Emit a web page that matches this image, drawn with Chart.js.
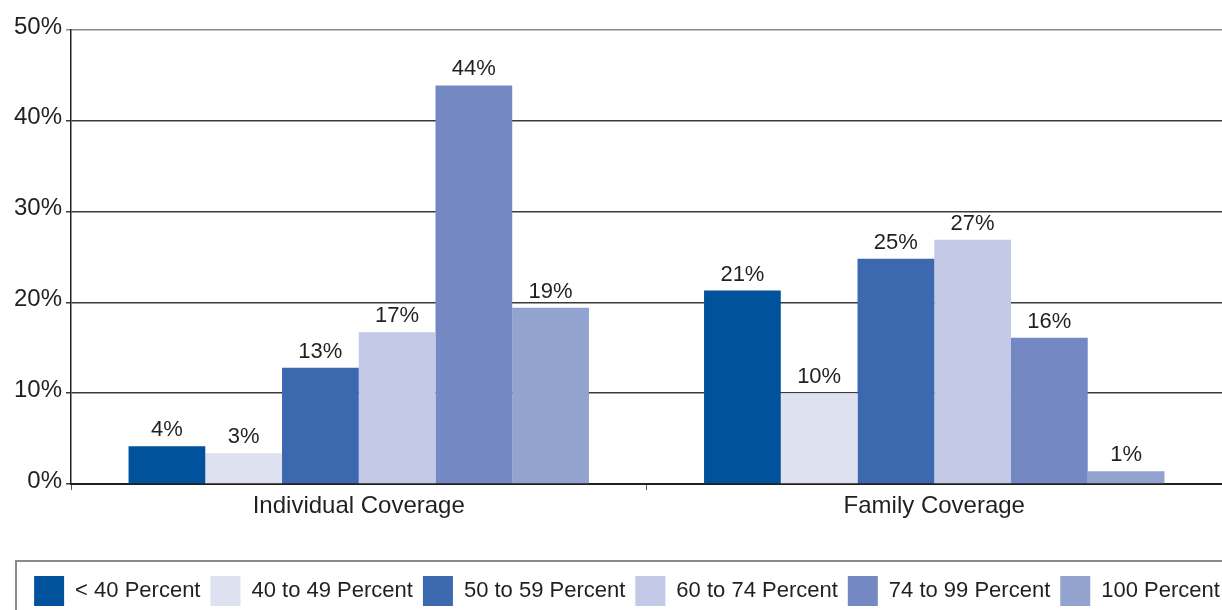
<!DOCTYPE html>
<html lang="en">
<head>
    <meta charset="UTF-8">
    <title>Coverage by percent of premium</title>
    <script src="https://cdn.jsdelivr.net/npm/chart.js"></script>
    <style>
        html, body {
            margin: 0;
            padding: 0;
            background: #fff;
        }
        #chart-container {
            width: 1222px;
            height: 610px;
        }
    </style>
</head>
<body>
    <div id="chart-container">
        <canvas id="coverageChart"></canvas>
    </div>

    <script>
        // data
        const categories = ['Individual Coverage', 'Family Coverage'];
        const seriesNames = ['< 40 Percent', '40 to 49 Percent', '50 to 59 Percent', '60 to 74 Percent', '74 to 99 Percent', '100 Percent'];
        const lessThan40 = [4.15, 21.3];
        const from40to49 = [3.4, 10.0];
        const from50to59 = [12.8, 24.8];
        const from60to74 = [16.7, 26.9];
        const from74to99 = [43.9, 16.1];
        const full100 = [19.4, 1.4];
        const yTicks = [0, 10, 20, 30, 40, 50];

        const seriesValues = [lessThan40, from40to49, from50to59, from60to74, from74to99, full100];
        const colors = ['#00529c', '#dde1f0', '#3b68ae', '#c3c9e6', '#7489c3', '#93a3d0'];

        const FONT = '"Liberation Sans", Arial, sans-serif';
        const TEXT = '#231f20';

        // value labels above bars
        const barLabels = {
            id: 'barLabels',
            afterDatasetsDraw(chart) {
                const ctx = chart.ctx;
                ctx.save();
                ctx.font = '22px ' + FONT;
                ctx.fillStyle = TEXT;
                ctx.textAlign = 'center';
                ctx.textBaseline = 'alphabetic';
                chart.data.datasets.forEach((ds, i) => {
                    chart.getDatasetMeta(i).data.forEach((bar, j) => {
                        ctx.fillText(Math.round(ds.data[j]) + '%', bar.x, bar.y - 10);
                    });
                });
                ctx.restore();
            }
        };

        // move legend a bit and draw the frame around it
        const legendFrame = {
            id: 'legendFrame',
            afterLayout(chart) {
                const lg = chart.legend;
                lg.left += 16;
                lg.right += 16;
                lg.top += 6;
                lg.bottom += 6;
            },
            afterDraw(chart) {
                const lg = chart.legend;
                const ctx = chart.ctx;
                ctx.save();
                ctx.strokeStyle = '#8a8a8a';
                ctx.lineWidth = 2;
                ctx.strokeRect(16, lg.top - 5, chart.width, 100);
                ctx.restore();
            }
        };

        const ctx = document.getElementById('coverageChart').getContext('2d');
        const coverageChart = new Chart(ctx, {
            type: 'bar',
            data: {
                labels: categories,
                datasets: seriesNames.map((name, i) => ({
                    label: name,
                    data: seriesValues[i],
                    backgroundColor: colors[i],
                    borderWidth: 0,
                    categoryPercentage: 0.8,
                    barPercentage: 1.0
                }))
            },
            options: {
                responsive: true,
                maintainAspectRatio: false,
                animation: false,
                layout: {
                    padding: { top: 30, right: 0, bottom: 0, left: 0 }
                },
                plugins: {
                    tooltip: { enabled: false },
                    legend: {
                        position: 'bottom',
                        align: 'center',
                        labels: {
                            boxWidth: 30,
                            boxHeight: 30,
                            padding: 10,
                            color: TEXT,
                            font: { family: FONT, size: 22 }
                        }
                    }
                },
                scales: {
                    x: {
                        afterFit(scale) { scale.height = 76; },
                        grid: {
                            display: true,
                            drawOnChartArea: false,
                            drawTicks: true,
                            tickLength: 6,
                            color: '#555'
                        },
                        border: { color: '#231f20', width: 2 },
                        ticks: {
                            padding: 2,
                            color: TEXT,
                            font: { family: FONT, size: 24 }
                        }
                    },
                    y: {
                        min: 0,
                        max: 50,
                        afterFit(scale) { scale.width = 71; },
                        afterBuildTicks(scale) {
                            scale.ticks = yTicks.map(v => ({ value: v }));
                        },
                        grid: {
                            drawTicks: true,
                            tickLength: 5,
                            color: (c) => c.tick && c.tick.value === 50 ? '#8a8a8a' : '#3a3a3a',
                            lineWidth: 1.5
                        },
                        border: { color: '#231f20', width: 1.5 },
                        ticks: {
                            padding: 4,
                            labelOffset: -3,
                            color: TEXT,
                            font: { family: FONT, size: 24 },
                            callback: (v) => v + '%'
                        }
                    }
                }
            },
            plugins: [barLabels, legendFrame]
        });
    </script>
</body>
</html>
